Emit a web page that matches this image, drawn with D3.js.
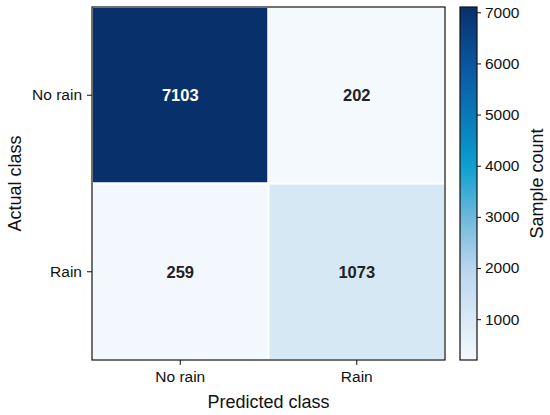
<!DOCTYPE html>
<html>
<head>
<meta charset="utf-8">
<script src="https://cdn.jsdelivr.net/npm/d3@7"></script>
<style>
  body { margin: 0; background: #fff; }
  svg { font-family: "Liberation Sans", Arial, sans-serif; }
</style>
</head>
<body>
<div id="chart"></div>
<script>
// confusion matrix data
const actualClasses = ["No rain", "Rain"];
const predictedClasses = ["No rain", "Rain"];
const counts = [
    [7103, 202],
    [259, 1073]
];
const colorTicks = [1000, 2000, 3000, 4000, 5000, 6000, 7000];
// colour stops
const colorStopValues = [202, 1000, 2000, 3000, 4000, 5000, 6000, 7103];
const colorStopColors = ["#f4f9fe", "#d9e9f6", "#b9d5ed", "#6db8dc", "#0aa0cf", "#0a78b8", "#0a559e", "#08306b"];

const W = 550, H = 415;
const FONT = '"Liberation Sans", Arial, sans-serif';
const svg = d3.select("#chart").append("svg")
    .attr("width", W)
    .attr("height", H);

// Heatmap area
const plotLeft = 92, plotTop = 7, plotRight = 445, plotBottom = 360;

const x = d3.scaleBand()
    .domain(predictedClasses)
    .range([plotLeft, plotRight]);

const y = d3.scaleBand()
    .domain(actualClasses)
    .range([plotTop, plotBottom]);

const vmin = d3.min(counts.flat());
const vmax = d3.max(counts.flat());

const color = d3.scaleLinear()
    .domain(colorStopValues)
    .range(colorStopColors)
    .interpolate(d3.interpolateRgb)
    .clamp(true);

// flatten into cells
const cells = [];
actualClasses.forEach((a, i) => {
    predictedClasses.forEach((p, j) => {
        cells.push({actual: a, predicted: p, value: counts[i][j]});
    });
});

// Draw cells (white gaps between)
svg.selectAll(".cell")
    .data(cells)
    .enter()
    .append("rect")
    .attr("class", "cell")
    .attr("x", d => x(d.predicted))
    .attr("y", d => y(d.actual))
    .attr("width", x.bandwidth())
    .attr("height", y.bandwidth())
    .attr("fill", d => color(d.value))
    .attr("stroke", "#fff")
    .attr("stroke-width", 2);

// Cell labels
svg.selectAll(".cell-label")
    .data(cells)
    .enter()
    .append("text")
    .attr("class", "cell-label")
    .attr("x", d => x(d.predicted) + x.bandwidth() / 2)
    .attr("y", d => y(d.actual) + y.bandwidth() / 2)
    .attr("dy", "0.35em")
    .attr("text-anchor", "middle")
    .style("font-size", "16.5px")
    .style("font-weight", "bold")
    .style("fill", d => d.value > (vmin + vmax) / 2 ? "#fff" : "#222")
    .text(d => d.value);

// Frame
svg.append("rect")
    .attr("x", plotLeft)
    .attr("y", plotTop)
    .attr("width", plotRight - plotLeft)
    .attr("height", plotBottom - plotTop)
    .attr("fill", "none")
    .attr("stroke", "#111")
    .attr("stroke-width", 1.2);

function styleAxis(g) {
    g.attr("font-family", FONT).attr("font-size", 15.5);
    g.select(".domain").remove();
    g.selectAll(".tick line").attr("stroke", "#111");
    g.selectAll("text").attr("fill", "#111");
}

// Axes
svg.append("g")
    .attr("transform", `translate(0,${plotBottom})`)
    .call(d3.axisBottom(x).tickSize(5).tickPadding(6))
    .call(styleAxis);

svg.append("g")
    .attr("transform", `translate(${plotLeft},0)`)
    .call(d3.axisLeft(y).tickSize(5).tickPadding(5))
    .call(styleAxis);

// Axis titles
svg.append("text")
    .attr("x", (plotLeft + plotRight) / 2)
    .attr("y", 408)
    .attr("text-anchor", "middle")
    .style("font-size", "18px")
    .style("fill", "#111")
    .text("Predicted class");

svg.append("text")
    .attr("transform", "rotate(-90)")
    .attr("x", -(plotTop + plotBottom) / 2)
    .attr("y", 21)
    .attr("text-anchor", "middle")
    .style("font-size", "18px")
    .style("fill", "#111")
    .text("Actual class");

// Colorbar
const cbLeft = 460, cbWidth = 17;
const cbScale = d3.scaleLinear()
    .domain([vmin, vmax])
    .range([plotBottom, plotTop]);

const defs = svg.append("defs");
const gradient = defs.append("linearGradient")
    .attr("id", "cbGradient")
    .attr("x1", "0%").attr("y1", "100%")
    .attr("x2", "0%").attr("y2", "0%");

d3.range(0, 1.0001, 0.02).forEach(t => {
    gradient.append("stop")
        .attr("offset", `${t * 100}%`)
        .attr("stop-color", color(vmin + t * (vmax - vmin)));
});

svg.append("rect")
    .attr("x", cbLeft)
    .attr("y", plotTop)
    .attr("width", cbWidth)
    .attr("height", plotBottom - plotTop)
    .attr("fill", "url(#cbGradient)")
    .attr("stroke", "#111")
    .attr("stroke-width", 1.2);

svg.append("g")
    .attr("transform", `translate(${cbLeft + cbWidth},0)`)
    .call(d3.axisRight(cbScale).tickValues(colorTicks).tickFormat(d3.format("d")).tickSize(4).tickPadding(4))
    .call(styleAxis);

svg.append("text")
    .attr("transform", "rotate(-90)")
    .attr("x", -(plotTop + plotBottom) / 2)
    .attr("y", 543)
    .attr("text-anchor", "middle")
    .style("font-size", "18px")
    .style("fill", "#111")
    .text("Sample count");
</script>
</body>
</html>
